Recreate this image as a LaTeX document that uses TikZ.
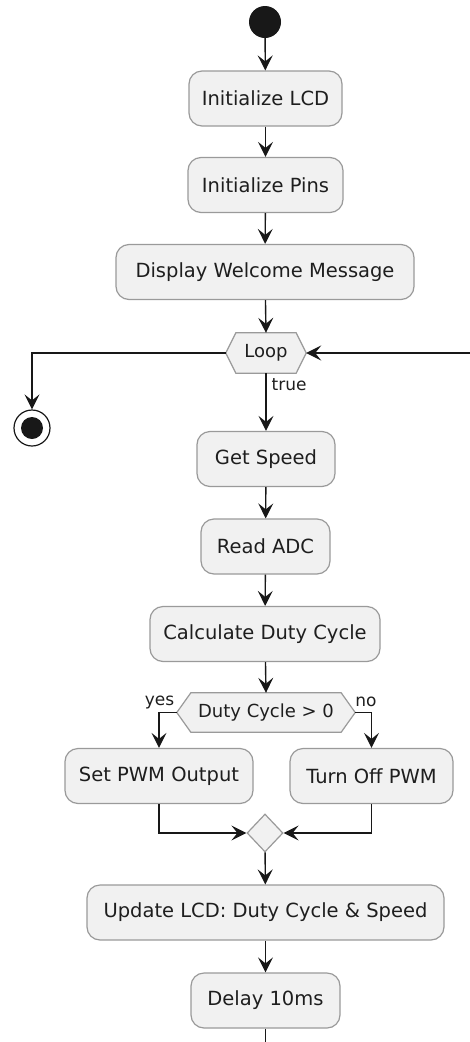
\documentclass[tikz,border=0pt]{standalone}
\usepackage{fontspec}
\setmainfont{DejaVu Sans}
\usetikzlibrary{arrows.meta,calc,shapes.geometric}
\definecolor{boxfill}{HTML}{F1F1F1}
\definecolor{boxline}{HTML}{9A9A9A}
\definecolor{ink}{HTML}{181818}
\definecolor{txt}{HTML}{1E1E1E}
\tikzset{
  act/.style={draw=boxline, fill=boxfill, line width=1.2pt, rounded corners=13pt,
    minimum height=55pt, inner sep=0pt, text=txt, font=\fontsize{19.5}{22}\selectfont},
  hexcore/.style={inner sep=0pt, text=txt, font=\fontsize{18}{20}\selectfont},
  hexline/.style={draw=boxline, fill=boxfill, line width=1.2pt},
  flow/.style={draw=ink, line width=1.4pt, -{Stealth[length=15pt,width=15pt,inset=6pt]}},
  plain/.style={draw=ink, line width=1.4pt},
  lbl/.style={text=txt, font=\fontsize{17}{19}\selectfont, inner sep=0pt},
  merge/.style={diamond, draw=boxline, fill=boxfill, line width=1.2pt, minimum width=36pt, minimum height=38pt, inner sep=0pt}
}
\begin{document}
\begin{tikzpicture}[x=1pt,y=-1pt]
\useasboundingbox (0,0) rectangle (470,1042);
\fill[white] (0,0) rectangle (470,1042);

% start
\node[circle, fill=ink, minimum size=32pt, inner sep=0pt] (start) at (265,22) {};
\node[act, minimum width=153pt] (lcd) at (265.5,98.5) {Initialize LCD};
\node[act, minimum width=155pt] (pins) at (265.5,185) {Initialize Pins};
\node[act, minimum width=298pt] (welcome) at (265,272) {Display Welcome Message};

% loop hexagon
\node[hexcore, minimum width=60pt, minimum height=40pt] (loop) at (266,353) {};
\coordinate (loopL) at ($(loop.west)+(-10,0)$);
\coordinate (loopR) at ($(loop.east)+(10,0)$);
\path[hexline] (loopL) -- (loop.north west) -- (loop.north east) -- (loopR) -- (loop.south east) -- (loop.south west) -- cycle;
\node[hexcore] at (loop) {Loop};

% end
\node[circle, draw=ink, fill=white, line width=1.2pt, minimum size=36pt, inner sep=0pt] (stop) at (32,428) {};
\node[circle, fill=ink, minimum size=22pt, inner sep=0pt] at (stop) {};
\coordinate (backin) at (470,353);

\node[act, minimum width=138pt] (speed) at (266,459) {Get Speed};
\node[act, minimum width=129pt] (adc) at (265.5,546.5) {Read ADC};
\node[act, minimum width=230pt] (calc) at (265,634) {Calculate Duty Cycle};

% duty hexagon
\node[hexcore, minimum width=150pt, minimum height=39pt] (duty) at (266,712.5) {};
\coordinate (dutyL) at ($(duty.west)+(-14,0)$);
\coordinate (dutyR) at ($(duty.east)+(14,0)$);
\path[hexline] (dutyL) -- (duty.north west) -- (duty.north east) -- (dutyR) -- (duty.south east) -- (duty.south west) -- cycle;
\node[hexcore] at (duty) {Duty Cycle > 0};

\node[act, minimum width=188pt] (setpwm) at (159,776) {Set PWM Output};
\node[act, minimum width=163pt] (offpwm) at (371.5,776) {Turn Off PWM};
\node[merge] (join) at (265,833) {};
\node[act, minimum width=357pt] (update) at (265.5,912.5) {Update LCD: Duty Cycle \& Speed};
\node[act, minimum width=149pt] (delay) at (265.5,1000.5) {Delay 10ms};
\coordinate (tail) at (265.5,1042);

% connectors
\draw[flow] (start) -- (lcd);
\draw[flow] (lcd) -- (pins);
\draw[flow] (pins) -- (welcome);
\draw[flow] (welcome) -- (loop.north);
\draw[flow] (loopL) -| (stop.north);
\draw[flow] (backin) -- (loopR);
\draw[flow] (loop.south) -- node[lbl, anchor=west, pos=0.2, xshift=5pt] {true} (speed);
\draw[flow] (speed) -- (adc);
\draw[flow] (adc) -- (calc);
\draw[flow] (calc) -- (duty.north);
\draw[flow] (dutyL) -| (setpwm.north);
\draw[flow] (dutyR) -| (offpwm.north);
\node[lbl] (yes) at (159.5,702) {yes};
\node[lbl] (no) at (366,702) {no};
\draw[flow] (setpwm.south) |- (join.west);
\draw[flow] (offpwm.south) |- (join.east);
\draw[flow] (join) -- (update);
\draw[flow] (update) -- (delay);
\draw[plain] (delay) -- (tail);
\end{tikzpicture}
\end{document}
